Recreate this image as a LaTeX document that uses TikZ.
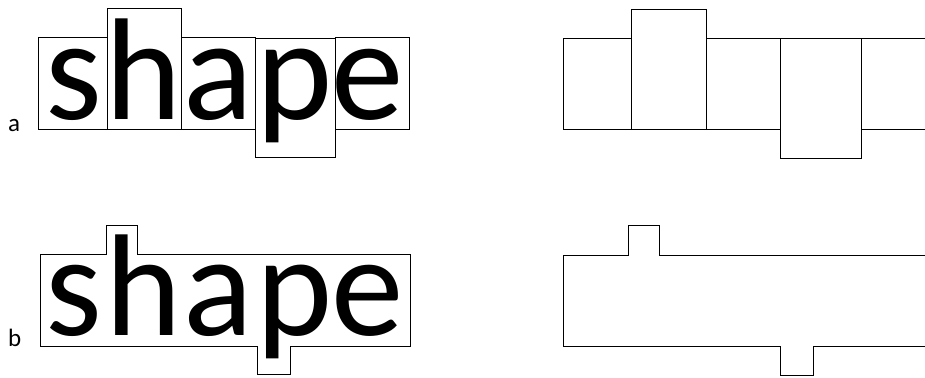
\documentclass[tikz,border=0pt]{standalone}
\usepackage{fontspec}
\setmainfont{Carlito}

\begin{document}
\begin{tikzpicture}[
  x=1pt, y=-1pt,
  outline/.style={draw=black, line width=0.9pt},
  glyph/.style={anchor=base, inner sep=0pt, font=\fontsize{145}{145}\selectfont},
  tag/.style={anchor=base west, inner sep=0pt, font=\fontsize{25}{25}\selectfont}
]
\useasboundingbox (0,0) rectangle (925,377);
\clip (0,0) rectangle (925,377);

% Row a: one box per letter
\node[tag] (taga) at (8,131) {a};
\foreach \ch/\cx [count=\i] in {s/73.7, h/143.3, a/217.8, p/294.2, e/367.2} {
  \node[glyph] (a\i) at (\cx,120) {\ch};
}
\foreach \xl/\xr/\yt/\yb in {38.3/107.3/37.3/129.3, 107.3/181.7/8.3/129.3, 181.7/255.7/37.3/129.3,
                             255.7/335/38.7/157.7, 335/409.3/37.3/129.3} {
  \draw[outline] (\xl,\yt) rectangle (\xr,\yb);
}

% Row a, right: the boxes alone
\foreach \xl/\xr/\yt/\yb in {563.3/631.7/38.3/129.3, 631.7/706.7/9.3/129.3, 706.7/780/38.3/129.3,
                             780/861/38.3/158.7, 861/935/38.3/129.3} {
  \draw[outline] (\xl,\yt) rectangle (\xr,\yb);
}

% Row b: boxes merged into one outline
\node[tag] (tagb) at (8,346) {b};
\foreach \ch/\cx [count=\i] in {s/73.7, h/143.3, a/217.8, p/294.2, e/367.2} {
  \node[glyph] (b\i) at (\cx,335) {\ch};
}
\draw[outline] (40.7,254) -- (106.7,254) -- (106.7,225.3) -- (137.3,225.3) -- (137.3,254)
  -- (410.7,254) -- (410.7,346) -- (290,346) -- (290,374.3) -- (257.7,374.3)
  -- (257.7,346) -- (40.7,346) -- cycle;

% Row b, right: the outline alone
\draw[outline] (563.3,255) -- (628.7,255) -- (628.7,225.7) -- (659.3,225.7) -- (659.3,255)
  -- (935,255) -- (935,346) -- (813.3,346) -- (813.3,375) -- (780,375)
  -- (780,346) -- (563.3,346) -- cycle;

\end{tikzpicture}
\end{document}
